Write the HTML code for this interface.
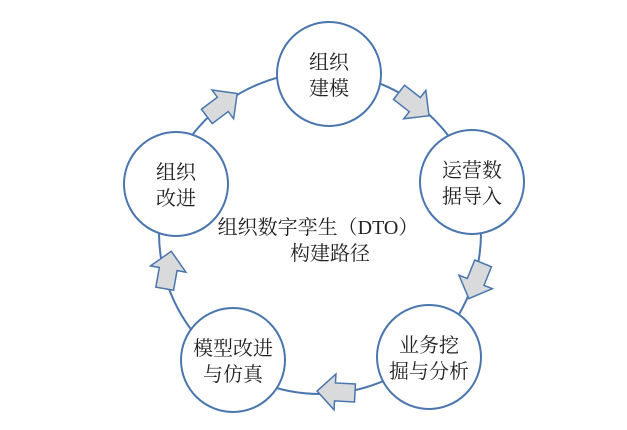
<!DOCTYPE html>
<html><head><meta charset="utf-8"><style>
body{margin:0;background:#fff}
svg{display:block}
text{font-family:"Liberation Serif","Noto Serif CJK SC",serif;font-size:20px;fill:#222;text-anchor:middle}
</style></head><body>
<svg width="627" height="430" viewBox="0 0 627 430">
<circle cx="320" cy="233" r="161" fill="none" stroke="#4a76ad" stroke-width="2"/>
<defs><polygon id="ar" points="-19,-9 1,-9 1,-18 19,0 1,18 1,9 -19,9" fill="#d9dadc" stroke="#4a76ad" stroke-width="1.5" stroke-linejoin="miter"/></defs>
<use href="#ar" transform="translate(414,104) rotate(38)"/>
<use href="#ar" transform="translate(476,281) rotate(112)"/>
<use href="#ar" transform="translate(336,392) rotate(183)"/>
<use href="#ar" transform="translate(168,270) rotate(-80)"/>
<use href="#ar" transform="translate(222,105) rotate(-37)"/>
<g fill="#fff" stroke="#4a76ad" stroke-width="2">
<circle cx="329" cy="74" r="52"/>
<circle cx="472" cy="182" r="52"/>
<circle cx="429" cy="357" r="52"/>
<circle cx="233" cy="360" r="52"/>
<circle cx="176" cy="184" r="52"/>
</g>
<text x="329" y="69">组织</text><text x="329" y="95">建模</text>
<text x="472" y="177">运营数</text><text x="472" y="203">据导入</text>
<text x="429" y="352">业务挖</text><text x="429" y="378">掘与分析</text>
<text x="233" y="355">模型改进</text><text x="233" y="381">与仿真</text>
<text x="176" y="179">组织</text><text x="176" y="205">改进</text>
<text x="318" y="234">组织数字孪生（DTO）</text><text x="330" y="260">构建路径</text>
</svg>
</body></html>
